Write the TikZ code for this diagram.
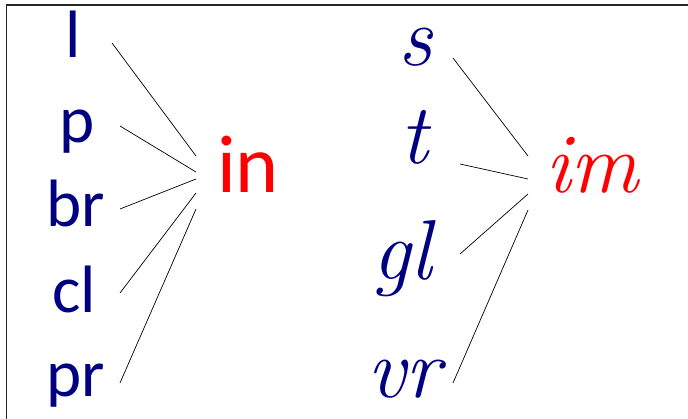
\documentclass[tikz,border=0pt]{standalone}
\usepackage{fontspec}
\newfontfamily\calib{Carlito}
\definecolor{navy}{RGB}{0,0,128}
\definecolor{redtxt}{RGB}{255,0,0}
\tikzset{
  sans/.style={anchor=base, inner sep=0pt, text=navy, font=\calib\fontsize{67}{80}\selectfont},
  sansred/.style={anchor=base, inner sep=0pt, text=redtxt, font=\calib\fontsize{82}{96}\selectfont},
  curs/.style={anchor=base, inner sep=0pt, text=navy, font=\itshape\fontsize{85}{100}\selectfont},
  cursred/.style={anchor=base, inner sep=0pt, text=redtxt, font=\itshape\fontsize{85}{100}\selectfont},
  link/.style={draw=black, line width=0.7pt},
  frame/.style={draw=black!85, line width=1.3pt}
}
\begin{document}
\begin{tikzpicture}[x=1pt,y=-1pt]
\useasboundingbox (0,0) rectangle (688,419);
\draw[frame] (6.5,430) -- (6.5,5) -- (700,5);
% left group
\node[sans] (l) at (73,58) {l};
\node[sans] (p) at (77,143) {p};
\node[sans] (br) at (76,227) {br};
\node[sans] (cl) at (74,313) {cl};
\node[sans] (pr) at (76,397) {pr};
\node[sansred] (in) at (248,193) {in};
% right group
\node[curs] (s) at (415,66) {s};
\node[curs] (t) at (414,164) {t};
\node[curs] (gl) at (402,280) {gl};
\node[curs] (vr) at (404,398) {vr};
\node[cursred] (im) at (592,193) {im};
% connector ends
\coordinate (l-e) at (112,43);
\coordinate (p-e) at (120,126);
\coordinate (br-e) at (120,209);
\coordinate (cl-e) at (120,293);
\coordinate (pr-e) at (120,383);
\coordinate (in-1) at (196,156);
\coordinate (in-2) at (196,172);
\coordinate (in-3) at (196,179);
\coordinate (in-4) at (196,193);
\coordinate (in-5) at (196,209);
\coordinate (s-e) at (453,58);
\coordinate (t-e) at (460,164);
\coordinate (gl-e) at (460,254);
\coordinate (vr-e) at (453,383);
\coordinate (im-1) at (528,156);
\coordinate (im-2) at (528,179);
\coordinate (im-3) at (528,194);
\coordinate (im-4) at (528,210);
\draw[link] (l-e) -- (in-1);
\draw[link] (p-e) -- (in-2);
\draw[link] (br-e) -- (in-3);
\draw[link] (cl-e) -- (in-4);
\draw[link] (pr-e) -- (in-5);
\draw[link] (s-e) -- (im-1);
\draw[link] (t-e) -- (im-2);
\draw[link] (gl-e) -- (im-3);
\draw[link] (vr-e) -- (im-4);
\end{tikzpicture}
\end{document}
